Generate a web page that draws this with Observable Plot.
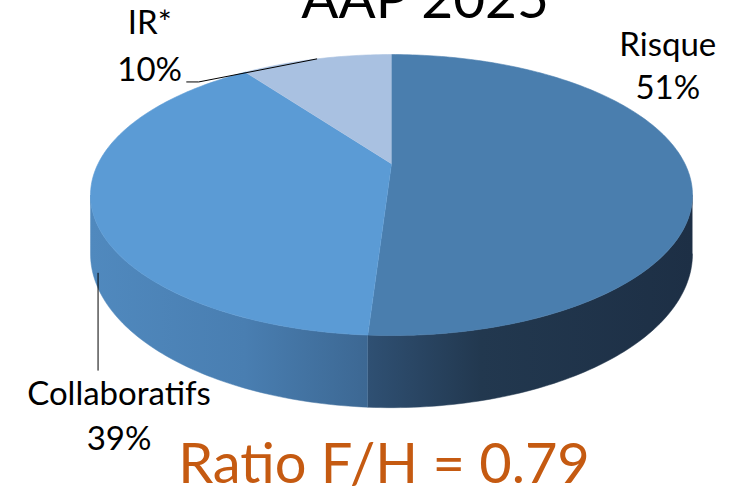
<!DOCTYPE html>
<html><head><meta charset="utf-8">
<script src="https://cdn.jsdelivr.net/npm/d3@7"></script>
<script src="https://cdn.jsdelivr.net/npm/@observablehq/plot@0.6"></script>
<style>html,body{margin:0;padding:0;background:#fff;overflow:hidden}</style>
</head><body><div id="chart"></div>
<script>
// ---- data ----
const categories = ["Risque", "Collaboratifs", "IR*"];
const shares = [51, 39, 10];
const pctLabels = ["51%", "39%", "10%"];
const topColors = ["#4a7eae", "#5b9bd5", "#a9c1e1"];
const wallFills = ["url(#wallRisque)", "url(#wallCollab)", "#8fa9c9"];
const titleText = "AAP 2025";
const ratioText = "Ratio F/H = 0.79";

// ---- geometry (3D perspective pie) ----
const W = 745, H = 492;
const cx = 391, A = 293.4, cy = 163.2, B = 133.5, k = 0.223, depth = 0.42;
const total = d3.sum(shares);
let acc = 0;
const slices = categories.map((c, i) => {
  const a0 = acc / total * 360; acc += shares[i]; const a1 = acc / total * 360;
  return {c, i, a0, a1, mid: (a0 + a1) / 2};
});
function proj(deg, z) {
  const t = deg * Math.PI / 180, u = Math.sin(t), v = Math.cos(t), s = 1 + k * v;
  return {x: u / s, y: (-v + z) / s};
}
function arc(a, b, z) {
  const n = Math.max(2, Math.ceil(Math.abs(b - a)));
  return d3.range(n + 1).map(j => proj(a + (b - a) * j / n, z));
}
const thR = Math.acos(-k) * 180 / Math.PI, thL = 360 - thR;

const marks = [];
// walls (front visible part)
slices.forEach(s => {
  const lo = Math.max(s.a0, thR), hi = Math.min(s.a1, thL);
  if (lo < hi) {
    const pts = [...arc(lo, hi, 0), ...arc(hi, lo, depth)];
    marks.push(Plot.line(pts, {x: "x", y: "y", fill: wallFills[s.i], stroke: wallFills[s.i], strokeWidth: 0.5}));
  }
});
// top faces
slices.forEach(s => {
  const pts = [{x: 0, y: 0}, ...arc(s.a0, s.a1, 0)];
  marks.push(Plot.line(pts, {x: "x", y: "y", fill: topColors[s.i], stroke: topColors[s.i], strokeWidth: 0.6}));
});

// label anchors
const irA = proj(slices[2].mid, 0);
const coA = proj(slices[1].mid, depth);
const riA = proj(slices[0].mid, 0);
// leader lines
marks.push(Plot.line([irA, {x: irA.x - 118 / A, y: irA.y + 23 / B}, {x: irA.x - 130 / A, y: irA.y + 23 / B}],
  {x: "x", y: "y", stroke: "#000", strokeWidth: 1}));
marks.push(Plot.line([{x: coA.x + 7 / A, y: coA.y + 10 / B}, {x: coA.x + 7 / A, y: coA.y + 107 / B}],
  {x: "x", y: "y", stroke: "#000", strokeWidth: 1}));

const font = "Lato, 'Open Sans', sans-serif";
const lab = (anchor, text, dx, dy) => Plot.text([anchor], {x: "x", y: "y", text: () => text, dx, dy,
  lineAnchor: "bottom", textAnchor: "middle", fontSize: 33, fontFamily: font, fill: "#000"});
marks.push(lab(riA, categories[0], -19, -112));
marks.push(lab(riA, pctLabels[0], -19, -69));
marks.push(lab(coA, categories[1], 28, 142));
marks.push(lab(coA, pctLabels[1], 28, 187));
marks.push(lab(irA, categories[2], -167, -25));
marks.push(lab(irA, pctLabels[2], -167, 22));

marks.push(Plot.text([titleText], {frameAnchor: "top", text: d => d, dx: 52, dy: 17, lineAnchor: "bottom",
  fontSize: 55, fontFamily: font, fill: "#000"}));
marks.push(Plot.text([ratioText], {frameAnchor: "bottom", text: d => d, dx: 11, dy: -10, lineAnchor: "bottom",
  fontSize: 56, fontFamily: font, fill: "#c55a11"}));

const chart = Plot.plot({
  width: W, height: H, margin: 0,
  x: {domain: [-1, 1], range: [cx - A, cx + A], axis: null},
  y: {domain: [-1, 1], range: [cy - B, cy + B], axis: null},
  style: {background: "#fff", overflow: "hidden"},
  marks
});
const svgNS = "http://www.w3.org/2000/svg";
const defs = document.createElementNS(svgNS, "defs");
defs.innerHTML = `
<linearGradient id="wallCollab" gradientUnits="userSpaceOnUse" x1="90" y1="0" x2="370" y2="0">
  <stop offset="0" stop-color="#5089be"/><stop offset="0.55" stop-color="#497eb1"/><stop offset="1" stop-color="#3c6792"/>
</linearGradient>
<linearGradient id="wallRisque" gradientUnits="userSpaceOnUse" x1="367" y1="0" x2="692" y2="0">
  <stop offset="0" stop-color="#2f5073"/><stop offset="0.35" stop-color="#22384f"/><stop offset="1" stop-color="#1d2f45"/>
</linearGradient>`;
chart.insertBefore(defs, chart.firstChild);
document.getElementById("chart").appendChild(chart);
</script>
</body></html>
